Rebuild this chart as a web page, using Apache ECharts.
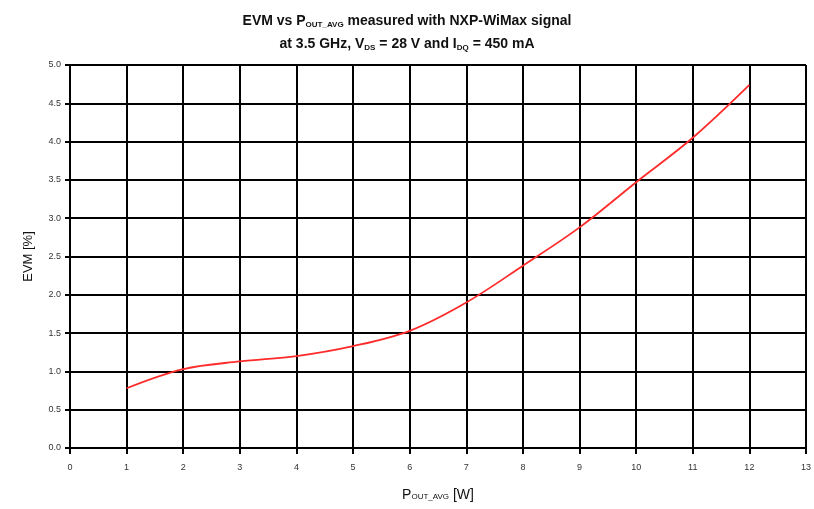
<!DOCTYPE html>
<html>
<head>
<meta charset="utf-8">
<script src="https://cdn.jsdelivr.net/npm/echarts@6/dist/echarts.min.js"></script>
<style>
  html, body { margin: 0; padding: 0; background: #fff; }
  #chart { width: 814px; height: 509px; }
</style>
</head>
<body>
<div id="chart"></div>
<script>
// Output power (W) and measured EVM (%)
const poutW = [1, 2, 3, 4, 5, 6, 7, 8, 9, 10, 11, 12];
const evmPct = [0.78, 1.03, 1.13, 1.20, 1.33, 1.53, 1.90, 2.38, 2.88, 3.47, 4.05, 4.74];

const xTicks = { min: 0, max: 13, interval: 1 };
const yTicks = { min: 0, max: 5, interval: 0.5 };

const font = '"Liberation Sans", Arial, sans-serif';
const chart = echarts.init(document.getElementById('chart'));

const main = { fontFamily: font, fontSize: 14, fontWeight: 'bold', color: '#111', lineHeight: 23 };
const sub = { fontFamily: font, fontSize: 8, fontWeight: 'bold', color: '#111', verticalAlign: 'bottom', lineHeight: 16, padding: [0, 0, 4, 0] };

chart.setOption({
  animation: false,
  backgroundColor: '#fff',
  title: {
    left: 'center',
    top: 5,
    text: '{b|EVM vs P}{s|OUT_AVG}{b| measured with NXP-WiMax signal}\n' +
          '{b|at 3.5 GHz, V}{s|DS}{b| = 28 V and I}{s|DQ}{b| = 450 mA}',
    textStyle: { rich: { b: main, s: sub } }
  },
  grid: { left: 70, right: 6, top: 65, bottom: 61, containLabel: false },
  xAxis: {
    type: 'value',
    min: xTicks.min, max: xTicks.max, interval: xTicks.interval,
    name: '{b|P}{s|OUT_AVG}{b| [W]}',
    nameLocation: 'middle',
    nameGap: 38,
    nameTextStyle: {
      rich: {
        b: { fontFamily: font, fontSize: 14, color: '#111', lineHeight: 18 },
        s: { fontFamily: font, fontSize: 8, color: '#111', verticalAlign: 'bottom', lineHeight: 13, padding: [0, 0, 3, 0] }
      }
    },
    axisLine: { show: true, onZero: false, lineStyle: { color: '#000', width: 2 } },
    axisTick: { show: true, length: 6, lineStyle: { color: '#000', width: 2 } },
    axisLabel: { fontFamily: font, fontSize: 9, color: '#333', margin: 15 },
    splitLine: { show: true, lineStyle: { color: '#000', width: 2 } }
  },
  yAxis: {
    type: 'value',
    min: yTicks.min, max: yTicks.max, interval: yTicks.interval,
    name: 'EVM [%]',
    nameLocation: 'middle',
    nameGap: 35,
    nameTextStyle: { fontFamily: font, fontSize: 13, color: '#111' },
    axisLine: { show: true, lineStyle: { color: '#000', width: 2 } },
    axisTick: { show: true, length: 5, lineStyle: { color: '#000', width: 2 } },
    axisLabel: {
      fontFamily: font, fontSize: 9, color: '#333', margin: 9,
      formatter: v => v.toFixed(1)
    },
    splitLine: { show: true, lineStyle: { color: '#000', width: 2 } }
  },
  series: [{
    type: 'line',
    data: poutW.map((x, i) => [x, evmPct[i]]),
    smooth: 0.35,
    showSymbol: false,
    lineStyle: { color: '#ff2a2a', width: 1.8 }
  }]
});
</script>
</body>
</html>
